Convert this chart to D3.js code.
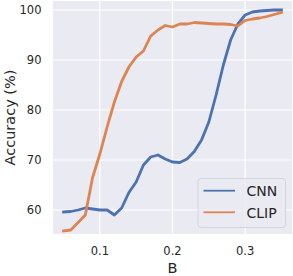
<!DOCTYPE html>
<html>
<head>
<meta charset="utf-8">
<script src="https://cdn.jsdelivr.net/npm/d3@7"></script>
<style>
  body { margin: 0; background: #fff; }
  svg { display: block; font-family: "DejaVu Sans", sans-serif; }
  .tick-label { fill: #262626; font-size: 11.5px; }
  .axis-title { fill: #262626; font-size: 14.5px; }
  .legend-label { fill: #262626; font-size: 14px; }
</style>
</head>
<body>
<div id="chart"></div>
<script>
const bValues = [0.05, 0.06, 0.07, 0.08, 0.09, 0.10, 0.11, 0.12, 0.13, 0.14, 0.15,
  0.16, 0.17, 0.18, 0.19, 0.20, 0.21, 0.22, 0.23, 0.24, 0.25,
  0.26, 0.27, 0.28, 0.29, 0.30, 0.31, 0.32, 0.33, 0.34, 0.35];
const cnnAcc = [59.6, 59.7, 60.0, 60.4, 60.2, 60.0, 60.0, 59.0, 60.4, 63.5, 65.6,
  69.0, 70.6, 71.0, 70.2, 69.6, 69.5, 70.2, 71.7, 74.0, 77.6,
  83.0, 89.0, 94.0, 97.2, 99.0, 99.6, 99.8, 99.9, 100.0, 100.0];
const clipAcc = [55.8, 56.0, 57.5, 59.0, 66.5, 71.2, 76.6, 81.6, 85.7, 88.6, 90.6,
  91.8, 94.8, 96.0, 96.9, 96.6, 97.2, 97.2, 97.5, 97.4, 97.3,
  97.2, 97.2, 97.1, 96.8, 97.9, 98.2, 98.4, 98.7, 99.1, 99.5];
const xTicks = [0.1, 0.2, 0.3];
const yTicks = [60, 70, 80, 90, 100];
const seriesNames = ["CNN", "CLIP"];
const seriesColors = { CNN: "#4c72b0", CLIP: "#dd8452" };

const width = 293;
const height = 276;
const plot = { left: 53, top: 1, right: 292, bottom: 234 };

const svg = d3.select("#chart")
  .append("svg")
  .attr("width", width)
  .attr("height", height);

const x = d3.scaleLinear()
  .domain([0.0355, 0.3645])
  .range([plot.left, plot.right]);

const y = d3.scaleLinear()
  .domain([55.2, 101.8])
  .range([plot.bottom, plot.top]);

// background
svg.append("rect")
  .attr("x", plot.left)
  .attr("y", plot.top)
  .attr("width", plot.right - plot.left)
  .attr("height", plot.bottom - plot.top)
  .attr("fill", "#eaeaf2");

// grid
svg.append("g")
  .selectAll("line")
  .data(xTicks)
  .join("line")
  .attr("x1", (d) => x(d))
  .attr("x2", (d) => x(d))
  .attr("y1", plot.top)
  .attr("y2", plot.bottom)
  .attr("stroke", "#fff")
  .attr("stroke-width", 1.2);

svg.append("g")
  .selectAll("line")
  .data(yTicks)
  .join("line")
  .attr("x1", plot.left)
  .attr("x2", plot.right)
  .attr("y1", (d) => y(d))
  .attr("y2", (d) => y(d))
  .attr("stroke", "#fff")
  .attr("stroke-width", 1.2);

// tick labels
svg.append("g")
  .selectAll("text")
  .data(xTicks)
  .join("text")
  .attr("class", "tick-label")
  .attr("x", (d) => x(d))
  .attr("y", 254.5)
  .attr("text-anchor", "middle")
  .text((d) => d3.format(".1f")(d));

svg.append("g")
  .selectAll("text")
  .data(yTicks)
  .join("text")
  .attr("class", "tick-label")
  .attr("x", 41.5)
  .attr("y", (d) => y(d) + 4.3)
  .attr("text-anchor", "end")
  .text((d) => d);

// axis titles
svg.append("text")
  .attr("class", "axis-title")
  .attr("x", (plot.left + plot.right) / 2)
  .attr("y", 272.5)
  .attr("text-anchor", "middle")
  .text("B");

svg.append("text")
  .attr("class", "axis-title")
  .attr("transform", `translate(14.5,${(plot.top + plot.bottom) / 2}) rotate(-90)`)
  .attr("text-anchor", "middle")
  .text("Accuracy (%)");

// lines
const line = d3.line()
  .x((d) => x(d.b))
  .y((d) => y(d.acc));

const seriesData = {
  CNN: bValues.map((b, i) => ({ b, acc: cnnAcc[i] })),
  CLIP: bValues.map((b, i) => ({ b, acc: clipAcc[i] }))
};

seriesNames.forEach((name) => {
  svg.append("path")
    .datum(seriesData[name])
    .attr("d", line)
    .attr("fill", "none")
    .attr("stroke", seriesColors[name])
    .attr("stroke-width", 2.8)
    .attr("stroke-linejoin", "round")
    .attr("stroke-linecap", "square");
});

// legend
const legend = svg.append("g");
legend.append("rect")
  .attr("x", 198)
  .attr("y", 178.5)
  .attr("width", 87.5)
  .attr("height", 49)
  .attr("rx", 3)
  .attr("fill", "#eaeaf2")
  .attr("fill-opacity", 0.8)
  .attr("stroke", "#d4d4dc")
  .attr("stroke-width", 1);

seriesNames.forEach((name, i) => {
  const ly = 190.7 + i * 21.6;
  legend.append("line")
    .attr("x1", 203.5)
    .attr("x2", 235)
    .attr("y1", ly)
    .attr("y2", ly)
    .attr("stroke", seriesColors[name])
    .attr("stroke-width", 1.8);
  legend.append("text")
    .attr("class", "legend-label")
    .attr("x", 246.5)
    .attr("y", ly + 5.2)
    .text(name);
});
</script>
</body>
</html>
